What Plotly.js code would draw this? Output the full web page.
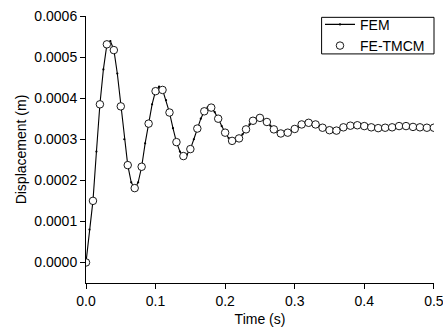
<!DOCTYPE html>
<html>
<head>
<meta charset="utf-8">
<script src="https://cdn.plot.ly/plotly-3.0.1.min.js"></script>
<style>html,body{margin:0;padding:0;background:#fff;}#chart{width:443px;height:331px;}</style>
</head>
<body>
<div id="chart"></div>
<script>
// FEM solution (fine time step)
var femTime = [0,0.005,0.01,0.015,0.02,0.025,0.03,0.035,0.04,0.045,0.05,0.055,0.06,0.065,0.07,0.075,0.08,0.085,0.09,0.095,
  0.1,0.105,0.11,0.115,0.12,0.125,0.13,0.135,0.14,0.145,0.15,0.155,0.16,0.165,0.17,0.175,0.18,0.185,0.19,0.195,
  0.2,0.205,0.21,0.215,0.22,0.225,0.23,0.235,0.24,0.245,0.25,0.255,0.26,0.265,0.27,0.275,0.28,0.285,0.29,0.295,
  0.3,0.305,0.31,0.315,0.32,0.325,0.33,0.335,0.34,0.345,0.35,0.355,0.36,0.365,0.37,0.375,0.38,0.385,0.39,0.395,
  0.4,0.405,0.41,0.415,0.42,0.425,0.43,0.435,0.44,0.445,0.45,0.455,0.46,0.465,0.47,0.475,0.48,0.485,0.49,0.495,0.5];
var femDisp = [0,0.00008,0.00015,0.00027,0.000385,0.00047,0.00053,0.000539,0.000518,0.00046,
  0.00038,0.0003,0.000237,0.000195,0.00018,0.000195,0.000233,0.00029,0.000338,0.000385,
  0.000418,0.000428,0.000421,0.000395,0.000365,0.000327,0.000293,0.00027,0.000259,0.000262,
  0.000276,0.0003,0.000326,0.00035,0.000368,0.000378,0.000377,0.000366,0.00035,0.000332,
  0.000316,0.000303,0.000296,0.000296,0.000302,0.000312,0.000324,0.000336,0.000345,0.000351,
  0.000352,0.000348,0.000342,0.000333,0.000324,0.000318,0.000314,0.000314,0.000316,0.00032,
  0.000325,0.000331,0.000336,0.000339,0.00034,0.000338,0.000336,0.000332,0.000328,0.000325,
  0.000322,0.000321,0.000321,0.000325,0.000329,0.000331,0.000333,0.000334,0.000334,0.000333,
  0.000332,0.00033,0.000329,0.000328,0.000327,0.000327,0.000328,0.000328,0.000329,0.00033,
  0.000332,0.000332,0.000332,0.000331,0.00033,0.000329,0.000329,0.000328,0.000328,0.000328,0.000328];

// FE-TMCM solution
var tmcmTime = [0,0.01,0.02,0.03,0.04,0.05,0.06,0.07,0.08,0.09,0.1,0.11,0.12,0.13,0.14,0.15,0.16,0.17,0.18,0.19,
  0.2,0.21,0.22,0.23,0.24,0.25,0.26,0.27,0.28,0.29,0.3,0.31,0.32,0.33,0.34,0.35,0.36,0.37,0.38,0.39,
  0.4,0.41,0.42,0.43,0.44,0.45,0.46,0.47,0.48,0.49,0.5];
var tmcmDisp = [0,0.00015,0.000385,0.000531,0.000517,0.00038,0.000237,0.000181,0.000233,0.000338,
  0.000417,0.00042,0.000365,0.000293,0.000259,0.000276,0.000326,0.000368,0.000377,0.00035,
  0.000316,0.000296,0.000302,0.000324,0.000345,0.000352,0.000342,0.000324,0.000314,0.000316,
  0.000325,0.000336,0.00034,0.000336,0.000328,0.000322,0.000321,0.000329,0.000333,0.000334,
  0.000332,0.000329,0.000327,0.000328,0.000329,0.000332,0.000332,0.00033,0.000329,0.000328,0.000328];

var xTicks = [0, 0.1, 0.2, 0.3, 0.4, 0.5];
var xTickText = ['0.0','0.1','0.2','0.3','0.4','0.5'];
var yTicks = [0, 0.0001, 0.0002, 0.0003, 0.0004, 0.0005, 0.0006];
var yTickText = ['0.0000','0.0001','0.0002','0.0003','0.0004','0.0005','0.0006'];

var font = 'Liberation Sans, Arial, sans-serif';

var traces = [
  {x: femTime, y: femDisp, name: 'FEM', type: 'scatter', mode: 'lines+markers',
   line: {color: '#000', width: 1.1}, marker: {color: '#000', size: 2.2}},
  {x: tmcmTime, y: tmcmDisp, name: 'FE-TMCM', type: 'scatter', mode: 'markers',
   marker: {symbol: 'circle', size: 7.5, color: '#fff', line: {color: '#000', width: 0.9}}}
];

var layout = {
  width: 443, height: 331,
  margin: {l: 86, r: 9, t: 16, b: 48, pad: 0},
  paper_bgcolor: '#fff', plot_bgcolor: '#fff',
  font: {family: font, size: 14, color: '#000'},
  showlegend: true,
  legend: {x: 0.9885, xanchor: 'right', y: 1.027, yanchor: 'top',
    bgcolor: 'rgba(0,0,0,0)', borderwidth: 0,
    font: {family: font, size: 14, color: '#000'}, tracegroupgap: 0},
  shapes: [{type: 'rect', xref: 'paper', yref: 'paper', x0: 0.677, x1: 1.0, y0: 0.858, y1: 0.995,
    line: {color: '#000', width: 1}, fillcolor: '#fff', layer: 'above'}],
  xaxis: {range: [0, 0.5002], tickvals: xTicks, ticktext: xTickText, ticklabeloverflow: 'allow',
    showgrid: false, zeroline: false, showline: true, linecolor: '#000', linewidth: 1,
    ticks: 'outside', ticklen: 5, tickcolor: '#000', tickfont: {family: font, size: 14},
    title: {text: 'Time (s)', font: {family: font, size: 14}, standoff: 6}},
  yaxis: {range: [-0.00005, 0.0006], tickvals: yTicks, ticktext: yTickText,
    showgrid: false, zeroline: false, showline: true, linecolor: '#000', linewidth: 1,
    ticks: 'outside', ticklen: 5, tickcolor: '#000', tickfont: {family: font, size: 14},
    title: {text: 'Displacement (m)', font: {family: font, size: 14}, standoff: 4}}
};

Plotly.newPlot('chart', traces, layout, {displayModeBar: false, staticPlot: true});
</script>
</body>
</html>
